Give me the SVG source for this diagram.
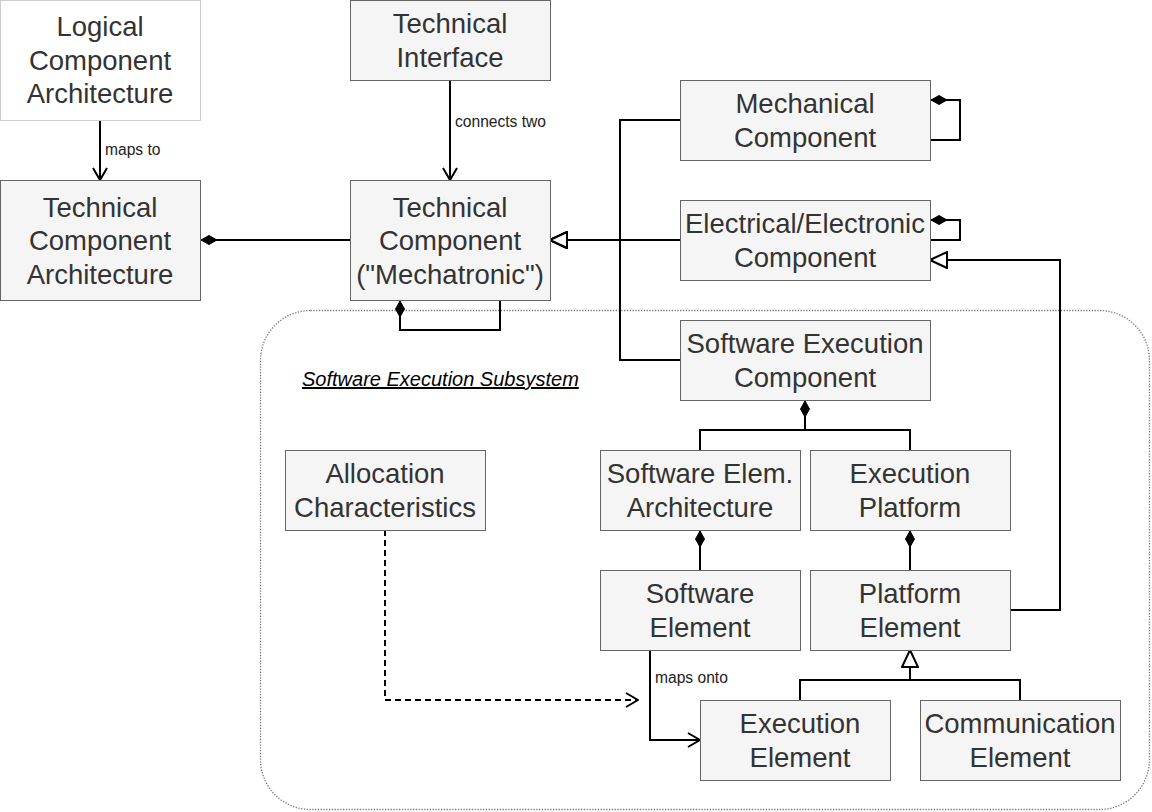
<svg xmlns="http://www.w3.org/2000/svg" width="1152" height="812" viewBox="0 0 1152 812">
<style>
.box{fill:#f5f5f5;stroke:#666;stroke-width:1}
.lbox{fill:#ffffff;stroke:#cccccc;stroke-width:1}
.t{font-family:"Liberation Sans",Arial,Helvetica,sans-serif;font-size:27.5px;fill:#333;text-anchor:middle}
.s{font-family:"Liberation Sans",Arial,Helvetica,sans-serif;font-size:15.6px;fill:#222}
.c{fill:none;stroke:#000;stroke-width:2}
.d{fill:none;stroke:#000;stroke-width:2;stroke-dasharray:6 4}
</style>
<defs>
<marker id="open" markerUnits="userSpaceOnUse" viewBox="0 0 14 16" refX="13" refY="8" markerWidth="14" markerHeight="16" orient="auto">
<path d="M1,1 L13,8 L1,15" fill="none" stroke="#000" stroke-width="2"/>
</marker>
<marker id="tri" markerUnits="userSpaceOnUse" viewBox="0 0 20 18" refX="19" refY="9" markerWidth="20" markerHeight="18" orient="auto">
<path d="M2,1 L19,9 L2,17 Z" fill="#fff" stroke="#000" stroke-width="2"/>
</marker>
<marker id="dia" markerUnits="userSpaceOnUse" viewBox="0 0 18 12" refX="0" refY="6" markerWidth="18" markerHeight="12" orient="auto">
<path d="M1,6 L9,1.5 L17,6 L9,10.5 Z" fill="#000" stroke="#000" stroke-width="1"/>
</marker>
</defs>

<g id="subsystem">
<rect x="260.5" y="310.5" width="889" height="499" rx="50" ry="50" fill="none" stroke="#777" stroke-width="1.3" stroke-dasharray="1.3 1.5"/>
<text x="302" y="386" font-family="'Liberation Sans',Arial,sans-serif" font-size="20" font-style="italic" text-decoration="underline" fill="#000">Software Execution Subsystem</text>
</g>

<g id="connectors">
<path class="c" d="M100,120 L100,180" marker-end="url(#open)"/>
<text class="s" x="105" y="155">maps to</text>
<path class="c" d="M450,80 L450,180" marker-end="url(#open)"/>
<text class="s" x="455" y="127">connects two</text>
<path class="c" d="M200,240 L350,240" marker-start="url(#dia)"/>
<path class="c" d="M400,300 L400,330 L500,330 L500,300" marker-start="url(#dia)"/>
<path class="c" d="M680,120 L620,120 L620,240 L550,240" marker-end="url(#tri)"/>
<path class="c" d="M680,240 L550,240" marker-end="url(#tri)"/>
<path class="c" d="M680,360 L620,360 L620,240 L550,240" marker-end="url(#tri)"/>
<path class="c" d="M930,100 L960,100 L960,140 L930,140" marker-start="url(#dia)"/>
<path class="c" d="M930,220 L960,220 L960,240 L930,240" marker-start="url(#dia)"/>
<path class="c" d="M1010,610 L1060,610 L1060,260 L930,260" marker-end="url(#tri)"/>
<path class="c" d="M805,400 L805,430 L700,430 L700,450" marker-start="url(#dia)"/>
<path class="c" d="M805,430 L910,430 L910,450"/>
<path class="c" d="M700,530 L700,570" marker-start="url(#dia)"/>
<path class="c" d="M910,530 L910,570" marker-start="url(#dia)"/>
<path class="c" d="M800,700 L800,680 L910,680 L910,650" marker-end="url(#tri)"/>
<path class="c" d="M1020,700 L1020,680 L910,680"/>
<path class="c" d="M650,650 L650,740 L700,740" marker-end="url(#open)"/>
<text class="s" x="655" y="683">maps onto</text>
<path class="d" d="M385,530 L385,700 L638,700" marker-end="url(#open)"/>
</g>

<g id="logical-component-architecture">
<rect class="lbox" x="0.5" y="0.5" width="200" height="120"/>
<text class="t"><tspan x="100" y="36">Logical</tspan><tspan x="100" y="69.5">Component</tspan><tspan x="100" y="103">Architecture</tspan></text>
</g>
<g id="technical-component-architecture">
<rect class="box" x="0.5" y="180.5" width="200" height="120"/>
<text class="t"><tspan x="100" y="216.5">Technical</tspan><tspan x="100" y="250">Component</tspan><tspan x="100" y="283.5">Architecture</tspan></text>
</g>
<g id="technical-interface">
<rect class="box" x="350.5" y="0.5" width="200" height="80"/>
<text class="t"><tspan x="450" y="33">Technical</tspan><tspan x="450" y="67">Interface</tspan></text>
</g>
<g id="technical-component">
<rect class="box" x="350.5" y="180.5" width="200" height="120"/>
<text class="t"><tspan x="450" y="216.5">Technical</tspan><tspan x="450" y="250">Component</tspan><tspan x="450" y="283.5">("Mechatronic")</tspan></text>
</g>
<g id="mechanical-component">
<rect class="box" x="680.5" y="80.5" width="250" height="80"/>
<text class="t"><tspan x="805" y="113">Mechanical</tspan><tspan x="805" y="147">Component</tspan></text>
</g>
<g id="electrical-component">
<rect class="box" x="680.5" y="200.5" width="250" height="80"/>
<text class="t"><tspan x="805" y="233">Electrical/Electronic</tspan><tspan x="805" y="267">Component</tspan></text>
</g>
<g id="software-execution-component">
<rect class="box" x="680.5" y="320.5" width="250" height="80"/>
<text class="t"><tspan x="805" y="353">Software Execution</tspan><tspan x="805" y="387">Component</tspan></text>
</g>
<g id="allocation-characteristics">
<rect class="box" x="285.5" y="450.5" width="200" height="80"/>
<text class="t"><tspan x="385" y="483">Allocation</tspan><tspan x="385" y="517">Characteristics</tspan></text>
</g>
<g id="software-elem-architecture">
<rect class="box" x="600.5" y="450.5" width="200" height="80"/>
<text class="t"><tspan x="700" y="483">Software Elem.</tspan><tspan x="700" y="517">Architecture</tspan></text>
</g>
<g id="execution-platform">
<rect class="box" x="810.5" y="450.5" width="200" height="80"/>
<text class="t"><tspan x="910" y="483">Execution</tspan><tspan x="910" y="517">Platform</tspan></text>
</g>
<g id="software-element">
<rect class="box" x="600.5" y="570.5" width="200" height="80"/>
<text class="t"><tspan x="700" y="603">Software</tspan><tspan x="700" y="637">Element</tspan></text>
</g>
<g id="platform-element">
<rect class="box" x="810.5" y="570.5" width="200" height="80"/>
<text class="t"><tspan x="910" y="603">Platform</tspan><tspan x="910" y="637">Element</tspan></text>
</g>
<g id="execution-element">
<rect class="box" x="700.5" y="700.5" width="190" height="80"/>
<text class="t"><tspan x="800" y="733">Execution</tspan><tspan x="800" y="767">Element</tspan></text>
</g>
<g id="communication-element">
<rect class="box" x="920.5" y="700.5" width="200" height="80"/>
<text class="t"><tspan x="1020" y="733">Communication</tspan><tspan x="1020" y="767">Element</tspan></text>
</g>
</svg>
